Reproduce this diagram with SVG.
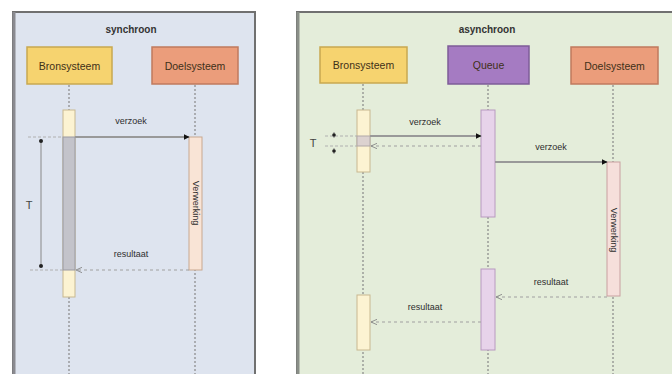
<svg xmlns="http://www.w3.org/2000/svg" width="672" height="374" viewBox="0 0 672 374">
  <defs>
    <marker id="filled" viewBox="0 0 10 10" refX="9" refY="5" markerWidth="6" markerHeight="6" orient="auto" markerUnits="userSpaceOnUse">
      <path d="M0,0 L10,5 L0,10 z" fill="#111"/>
    </marker>
    <marker id="open" viewBox="0 0 10 10" refX="9" refY="5" markerWidth="7" markerHeight="7" orient="auto" markerUnits="userSpaceOnUse">
      <path d="M0,1 L9,5 L0,9" fill="none" stroke="#888" stroke-width="1.3"/>
    </marker>
    <style>
      .panel-title { font-family: "Liberation Sans", Arial, sans-serif; font-size: 10px; font-weight: bold; fill: #333; text-anchor: middle; }
      .box-label { font-family: "Liberation Sans", Arial, sans-serif; font-size: 10.5px; fill: #3e3018; text-anchor: middle; dominant-baseline: central; }
      .msg-label { font-family: "Liberation Sans", Arial, sans-serif; font-size: 9px; fill: #2e2e2e; text-anchor: middle; }
      .bar-label { font-family: "Liberation Sans", Arial, sans-serif; font-size: 9px; fill: #2e2e2e; text-anchor: middle; dominant-baseline: central; }
      .t-label { font-family: "Liberation Sans", Arial, sans-serif; font-size: 11px; fill: #444; text-anchor: middle; }
      .lifeline { stroke: #888; stroke-width: 1.2; stroke-dasharray: 2 2; fill: none; }
      .call { stroke: #999; stroke-width: 1.8; fill: none; marker-end: url(#filled); }
      .reply { stroke: #a0a0a0; stroke-width: 1.2; stroke-dasharray: 3 3; fill: none; marker-end: url(#open); }
      .ext { stroke: #b0b0b0; stroke-width: 1; stroke-dasharray: 3 2; fill: none; }
      .dim { stroke: #888; stroke-width: 1; fill: none; }
      .actor { stroke-width: 1.5; }
      .src { fill: #f6d36f; stroke: #c8a850; }
      .dst { fill: #eb9d7b; stroke: #c07a5e; }
      .que { fill: #a57bc2; stroke: #7e5c98; }
      .act-src { fill: #fcf3d2; stroke: #c8b890; stroke-width: 1; }
      .act-dst { fill: #f9e4d6; stroke: #c8a890; stroke-width: 1; }
      .act-que { fill: #e7d3ea; stroke: #b89ac0; stroke-width: 1; }
      .act-dst2 { fill: #f6dfdb; stroke: #c8a0a0; stroke-width: 1; }
    </style>
  </defs>

  <rect width="672" height="374" fill="#ffffff"/>

  <!-- panel backgrounds -->
  <g id="panel-sync">
    <rect x="13" y="12" width="242" height="370" fill="#dee4ef" stroke="#707070" stroke-width="2"/>
    <line x1="14" y1="12" x2="14" y2="374" stroke="#8a8a90" stroke-width="3"/>
    <text class="panel-title" x="131" y="33">synchroon</text>
  </g>
  <g id="panel-async">
    <rect x="297" y="12" width="380" height="370" fill="#e4edda" stroke="#707070" stroke-width="2"/>
    <line x1="298" y1="12" x2="298" y2="374" stroke="#8a8f88" stroke-width="3"/>
    <text class="panel-title" x="487" y="33">asynchroon</text>
  </g>

  <!-- synchronous: lifelines -->
  <g id="sync-lifelines">
    <line class="lifeline" x1="69" y1="85" x2="69" y2="374"/>
    <line class="lifeline" x1="195" y1="85" x2="195" y2="374"/>
  </g>

  <g id="sync-bron">
    <rect class="actor src" x="27" y="47" width="85" height="37"/>
    <text class="box-label" x="69.5" y="65.5">Bronsysteem</text>
  </g>
  <g id="sync-doel">
    <rect class="actor dst" x="152" y="47" width="86" height="37"/>
    <text class="box-label" x="195" y="65.5">Doelsysteem</text>
  </g>

  <g id="sync-bron-activation">
    <rect class="act-src" x="63" y="110" width="12" height="187"/>
    <rect x="63" y="137" width="12" height="133" fill="#c3c3ca" stroke="#9a9aa2" stroke-width="1"/>
  </g>
  <g id="sync-doel-activation">
    <rect class="act-dst" x="189" y="137" width="13" height="133"/>
    <text class="bar-label" transform="translate(195.5 203) rotate(90)">Verwerking</text>
  </g>

  <g id="sync-connectors">
    <line class="call" x1="75" y1="137" x2="189" y2="137"/>
    <text class="msg-label" x="131" y="124">verzoek</text>
    <line class="reply" x1="189" y1="270" x2="76" y2="270"/>
    <text class="msg-label" x="131" y="257">resultaat</text>
    <!-- duration marker T -->
    <line class="ext" x1="28" y1="137" x2="63" y2="137"/>
    <line class="ext" x1="30" y1="270" x2="63" y2="270"/>
    <line class="dim" x1="41" y1="141" x2="41" y2="266"/>
    <circle cx="41" cy="141" r="2" fill="#222"/>
    <circle cx="41" cy="266" r="2" fill="#222"/>
    <text class="t-label" x="29" y="209">T</text>
  </g>

  <!-- asynchronous: lifelines -->
  <g id="async-lifelines">
    <line class="lifeline" x1="363" y1="84" x2="363" y2="374"/>
    <line class="lifeline" x1="488" y1="85" x2="488" y2="374"/>
    <line class="lifeline" x1="613" y1="85" x2="613" y2="374"/>
  </g>

  <g id="async-bron">
    <rect class="actor src" x="320" y="47" width="87" height="36"/>
    <text class="box-label" x="363.5" y="65">Bronsysteem</text>
  </g>
  <g id="async-queue">
    <rect class="actor que" x="448" y="46" width="81" height="38"/>
    <text class="box-label" x="488.5" y="65" fill="#3a2a50">Queue</text>
  </g>
  <g id="async-doel">
    <rect class="actor dst" x="571" y="47" width="87" height="37"/>
    <text class="box-label" x="614.5" y="65.5">Doelsysteem</text>
  </g>

  <g id="async-bron-activation-1">
    <rect class="act-src" x="357" y="110" width="13" height="62"/>
    <rect x="357" y="136" width="13" height="10" fill="#dcd2d0" stroke="#b0a8a8" stroke-width="1"/>
  </g>
  <g id="async-queue-activation-1">
    <rect class="act-que" x="481" y="110" width="14" height="107"/>
  </g>
  <g id="async-doel-activation">
    <rect class="act-dst2" x="607" y="162" width="13" height="134"/>
    <text class="bar-label" transform="translate(613.5 230) rotate(90)">Verwerking</text>
  </g>
  <g id="async-queue-activation-2">
    <rect class="act-que" x="481" y="269" width="14" height="81"/>
  </g>
  <g id="async-bron-activation-2">
    <rect class="act-src" x="357" y="295" width="13" height="55"/>
  </g>

  <g id="async-connectors">
    <line class="call" x1="370" y1="136" x2="481" y2="136"/>
    <text class="msg-label" x="425" y="125">verzoek</text>
    <line class="reply" x1="481" y1="146" x2="371" y2="146"/>
    <line class="call" x1="495" y1="162" x2="607" y2="162"/>
    <text class="msg-label" x="551" y="150">verzoek</text>
    <line class="reply" x1="607" y1="297" x2="496" y2="297"/>
    <text class="msg-label" x="551" y="285">resultaat</text>
    <line class="reply" x1="481" y1="322" x2="371" y2="322"/>
    <text class="msg-label" x="425" y="310">resultaat</text>
    <!-- duration marker T -->
    <line class="ext" x1="325" y1="136" x2="357" y2="136"/>
    <line class="ext" x1="325" y1="146" x2="357" y2="146"/>
    <line class="dim" x1="334" y1="132" x2="334" y2="138"/>
    <line class="dim" x1="334" y1="148" x2="334" y2="154"/>
    <circle cx="334" cy="135" r="1.8" fill="#222"/>
    <circle cx="334" cy="151" r="1.8" fill="#222"/>
    <text class="t-label" x="313" y="147">T</text>
  </g>
</svg>
